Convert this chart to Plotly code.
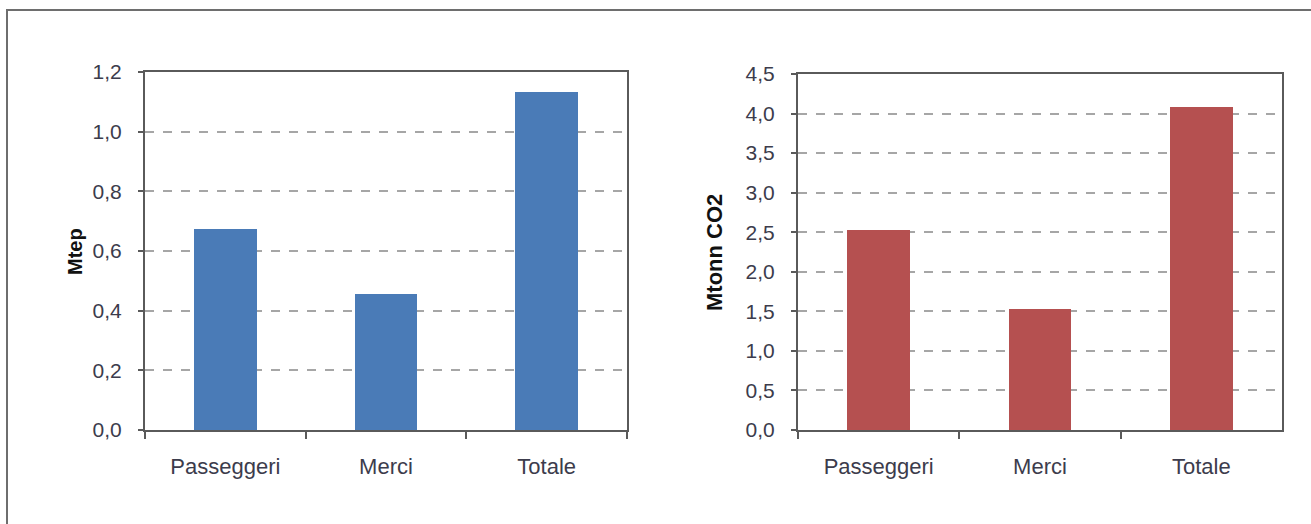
import plotly.graph_objects as go

categories = ["Passeggeri", "Merci", "Totale"]
energy_mtep = [0.675, 0.457, 1.133]
co2_mtonn = [2.53, 1.53, 4.08]
energy_ticks = [0.0, 0.2, 0.4, 0.6, 0.8, 1.0, 1.2]
co2_ticks = [0.0, 0.5, 1.0, 1.5, 2.0, 2.5, 3.0, 3.5, 4.0, 4.5]

W, H = 1311, 524
def px(x):
    return x / W
def py(y):
    return 1 - y / H

fig = go.Figure()
fig.add_trace(go.Bar(x=categories, y=energy_mtep, marker=dict(color="#4A7BB7", line=dict(width=0)),
                     width=0.39, xaxis="x", yaxis="y", showlegend=False))
fig.add_trace(go.Bar(x=categories, y=co2_mtonn, marker=dict(color="#B55050", line=dict(width=0)),
                     width=0.39, xaxis="x2", yaxis="y2", showlegend=False))

axis_col = "#5a5a5a"
font = "Liberation Sans, Arial, sans-serif"
tick_col = "#3c3c4c"
common_x = dict(showline=True, linecolor=axis_col, linewidth=2, mirror=True, automargin=False,
                ticks="outside", tickson="boundaries", ticklen=7, tickwidth=1.5, tickcolor=axis_col,
                tickfont=dict(family=font, size=22, color=tick_col), ticklabelstandoff=16,
                showgrid=False, zeroline=False, fixedrange=True)
common_y = dict(showline=True, linecolor=axis_col, linewidth=2, mirror=True, automargin=False,
                ticks="outside", ticklen=5, tickwidth=1.5, tickcolor=axis_col,
                tickfont=dict(family=font, size=21, color=tick_col), ticklabelstandoff=12,
                showgrid=True, gridcolor="#a6a6a6", gridwidth=1.5, griddash="dash",
                zeroline=False, tickformat=".1f", fixedrange=True)

fig.update_layout(
    width=W, height=H,
    margin=dict(l=0, r=0, t=0, b=0, pad=0, autoexpand=False),
    paper_bgcolor="white", plot_bgcolor="white",
    separators=", ",
    bargap=0,
    xaxis=dict(domain=[px(145), px(627)], anchor="y", **common_x),
    yaxis=dict(domain=[py(430), py(72)], anchor="x", range=[0, 1.2], tickvals=energy_ticks, **common_y),
    xaxis2=dict(domain=[px(798), px(1282)], anchor="y2", **common_x),
    yaxis2=dict(domain=[py(430), py(74)], anchor="x2", range=[0, 4.5], tickvals=co2_ticks, **common_y),
    shapes=[dict(type="rect", xref="paper", yref="paper", x0=px(7), y0=-0.2, x1=1.2, y1=py(10),
                 line=dict(color="#6e6e6e", width=2), fillcolor="rgba(0,0,0,0)", layer="below")],
    annotations=[
        dict(text="<b>Mtep</b>", x=px(62), y=py(252), xref="paper", yref="paper", textangle=-90,
             showarrow=False, font=dict(family=font, size=20, color="#111111")),
        dict(text="<b>Mtonn CO2</b>", x=px(714), y=py(253), xref="paper", yref="paper", textangle=-90,
             showarrow=False, font=dict(family=font, size=22, color="#111111")),
    ],
)

fig.write_html("out.html")
